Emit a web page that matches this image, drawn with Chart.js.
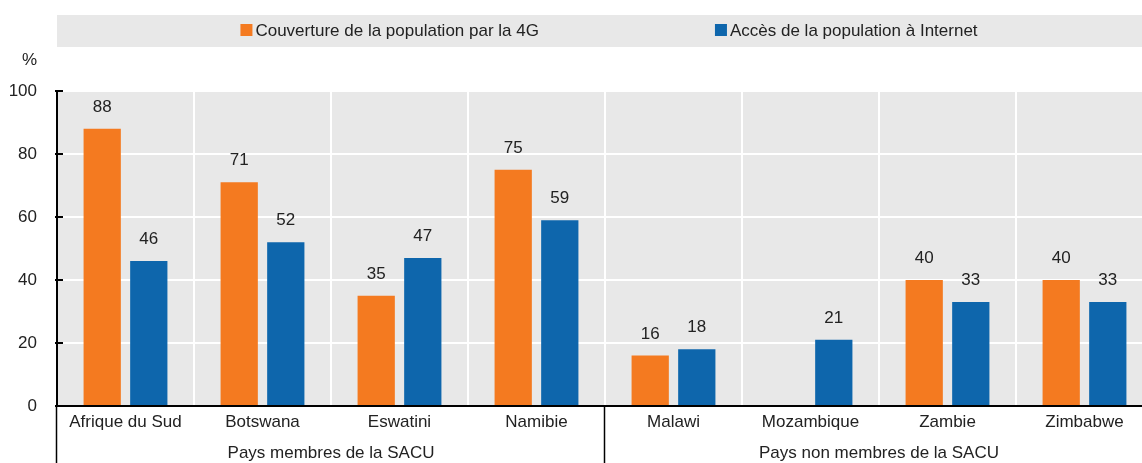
<!DOCTYPE html>
<html>
<head>
<meta charset="utf-8">
<script src="https://cdn.jsdelivr.net/npm/chart.js@4/dist/chart.umd.min.js"></script>
<style>
  html, body { margin: 0; padding: 0; background: #fff; overflow: hidden; }
  #wrap { width: 1160px; height: 463px; }
</style>
</head>
<body>
<div id="wrap"><canvas id="accessChart" width="1160" height="463"></canvas></div>
<script>
// Countries and their groups
const countries = ['Afrique du Sud', 'Botswana', 'Eswatini', 'Namibie', 'Malawi', 'Mozambique', 'Zambie', 'Zimbabwe'];
const groupNames = ['Pays membres de la SACU', 'Pays non membres de la SACU'];
const groupSizes = [4, 4];

// Series (% of population)
const seriesNames = ['Couverture de la population par la 4G', 'Accès de la population à Internet'];
const coverage4G = [88, 71, 35, 75, 16, null, 40, 40];
const internetAccess = [46, 52, 47, 59, 18, 21, 33, 33];

// Value axis
const yMin = 0;
const yMax = 100;
const yStep = 20;
const yUnit = '%';

const ORANGE = '#f47a20';
const BLUE = '#0e66ac';
const PANEL = '#e8e8e8';
const FONT = '"Liberation Sans", Arial, sans-serif';
const SIZE = 17;

// Gray panel, legend strip, value labels, inward ticks and group labels
const decorations = {
    id: 'decorations',
    beforeDraw(chart) {
        const { ctx, chartArea: a } = chart;
        ctx.save();
        ctx.fillStyle = PANEL;
        ctx.fillRect(a.left, a.top, a.right - a.left, a.bottom - a.top);
        // legend strip
        ctx.fillRect(a.left, 15, a.right - a.left, 32);
        ctx.font = SIZE + 'px ' + FONT;
        ctx.textBaseline = 'middle';
        const colors = [ORANGE, BLUE];
        const gap = 176;
        const widths = seriesNames.map(n => 12 + 3 + ctx.measureText(n).width);
        const total = widths[0] + gap + widths[1];
        let x = (a.left + a.right) / 2 + 4 - total / 2;
        seriesNames.forEach((n, i) => {
            ctx.fillStyle = colors[i];
            ctx.fillRect(x, 24, 12, 12);
            ctx.fillStyle = '#222';
            ctx.textAlign = 'left';
            ctx.fillText(n, x + 15, 31);
            x += widths[i] + gap;
        });
        // unit above the value axis
        ctx.textAlign = 'right';
        ctx.fillText(yUnit, 37, 60);
        ctx.restore();
    },
    afterDatasetsDraw(chart) {
        const { ctx } = chart;
        ctx.save();
        ctx.font = SIZE + 'px ' + FONT;
        ctx.fillStyle = '#222';
        ctx.textAlign = 'center';
        ctx.textBaseline = 'alphabetic';
        chart.data.datasets.forEach((ds, di) => {
            chart.getDatasetMeta(di).data.forEach((bar, i) => {
                const v = ds.data[i];
                if (v === null || v === undefined) return;
                ctx.fillText(String(v), bar.x, bar.y - 17);
            });
        });
        ctx.restore();
    },
    afterDraw(chart) {
        const { ctx, chartArea: a, scales } = chart;
        const y = scales.y;
        ctx.save();
        ctx.strokeStyle = '#000';
        ctx.lineWidth = 2;
        // short ticks pointing into the panel
        y.ticks.forEach(t => {
            const py = Math.round(y.getPixelForValue(t.value));
            ctx.beginPath();
            ctx.moveTo(a.left - 2, py);
            ctx.lineTo(a.left + 6, py);
            ctx.stroke();
        });
        // left rule and group separators below the axis
        ctx.lineWidth = 1.5;
        const step = (a.right - a.left) / countries.length;
        let start = 0;
        const bounds = [0];
        groupSizes.forEach(s => { start += s; bounds.push(start); });
        bounds.slice(0, -1).forEach(b => {
            const px = Math.round(a.left + b * step) - 0.5;
            ctx.beginPath();
            ctx.moveTo(px, a.bottom);
            ctx.lineTo(px, chart.height);
            ctx.stroke();
        });
        // group names
        ctx.font = SIZE + 'px ' + FONT;
        ctx.fillStyle = '#222';
        ctx.textAlign = 'center';
        ctx.textBaseline = 'middle';
        groupNames.forEach((g, i) => {
            const cx = a.left + (bounds[i] + bounds[i + 1]) / 2 * step;
            ctx.fillText(g, cx, 453);
        });
        ctx.restore();
    }
};

const chart = new Chart(document.getElementById('accessChart').getContext('2d'), {
    type: 'bar',
    data: {
        labels: countries,
        datasets: [
            { label: seriesNames[0], data: coverage4G, backgroundColor: ORANGE },
            { label: seriesNames[1], data: internetAccess, backgroundColor: BLUE }
        ]
    },
    options: {
        responsive: false,
        animation: false,
        categoryPercentage: 0.68,
        barPercentage: 0.8,
        layout: { padding: { top: 91, right: 7, left: 0, bottom: 0 } },
        plugins: {
            legend: { display: false },
            tooltip: { enabled: false }
        },
        scales: {
            x: {
                grid: { color: '#fff', lineWidth: 2, drawTicks: false, offset: true },
                border: { display: true, color: '#000', width: 2 },
                ticks: { color: '#222', font: { family: FONT, size: SIZE }, padding: 6, maxRotation: 0, autoSkip: false },
                afterFit(scale) { scale.height = 57; }
            },
            y: {
                min: yMin,
                max: yMax,
                grid: { color: '#fff', lineWidth: 2, drawTicks: false },
                border: { display: true, color: '#000', width: 2 },
                ticks: { stepSize: yStep, color: '#222', font: { family: FONT, size: SIZE }, padding: 20 },
                afterFit(scale) { scale.width = 57; }
            }
        }
    },
    plugins: [decorations]
});
</script>
</body>
</html>
